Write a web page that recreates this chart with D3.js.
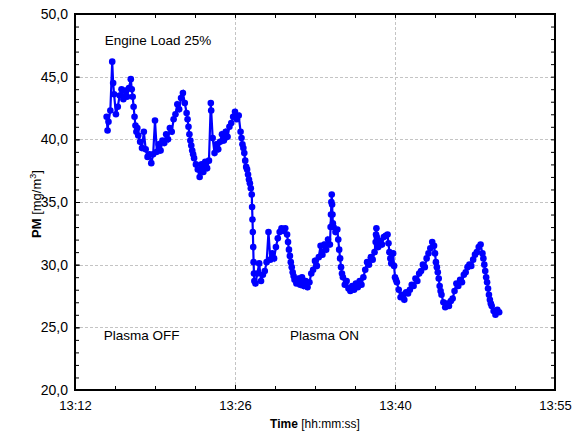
<!DOCTYPE html>
<html>
<head>
<meta charset="utf-8">
<script src="https://cdn.jsdelivr.net/npm/d3@7"></script>
<style>
  body { margin: 0; background: #fff; }
  svg { display: block; font-family: "Liberation Sans", Arial, sans-serif; }
</style>
</head>
<body>
<svg id="chart" width="573" height="436"></svg>
<script>
// measured PM concentration, engine load 25%
const sampleTimes = [
  "13:14:50","13:14:55","13:15:00","13:15:10","13:15:20","13:15:25","13:15:30","13:15:40","13:15:50",
  "13:16:00","13:16:10","13:16:20","13:16:30","13:16:40","13:16:50",
  "13:17:00","13:17:05","13:17:10","13:17:15","13:17:20","13:17:25","13:17:30","13:17:35","13:17:40","13:17:50",
  "13:18:00","13:18:10","13:18:20","13:18:30","13:18:40","13:18:50",
  "13:19:00","13:19:10","13:19:20","13:19:30","13:19:40","13:19:50",
  "13:20:00","13:20:10","13:20:20","13:20:30","13:20:40","13:20:50",
  "13:21:00","13:21:10","13:21:20","13:21:30","13:21:40","13:21:50",
  "13:22:00","13:22:05","13:22:10","13:22:15","13:22:20","13:22:25","13:22:30","13:22:35","13:22:40","13:22:50",
  "13:23:00","13:23:10","13:23:20","13:23:30","13:23:40","13:23:50",
  "13:24:00","13:24:10","13:24:12","13:24:20","13:24:30","13:24:40","13:24:50",
  "13:25:00","13:25:10","13:25:20","13:25:30","13:25:40","13:25:50",
  "13:26:00","13:26:10","13:26:20","13:26:30","13:26:40","13:26:50","13:26:55",
  "13:27:00","13:27:05","13:27:10","13:27:15","13:27:20","13:27:25","13:27:30","13:27:35","13:27:40","13:27:45","13:27:50",
  "13:27:52","13:27:54","13:27:56","13:27:58","13:28:00","13:28:02","13:28:04",
  "13:28:10","13:28:20","13:28:30","13:28:40","13:28:50",
  "13:29:00","13:29:10","13:29:20","13:29:30","13:29:40","13:29:50",
  "13:30:00","13:30:10","13:30:20","13:30:30","13:30:40","13:30:50",
  "13:31:00","13:31:05","13:31:10","13:31:15","13:31:20","13:31:25","13:31:30","13:31:35","13:31:40","13:31:50",
  "13:32:00","13:32:10","13:32:20","13:32:30","13:32:40","13:32:50",
  "13:33:00","13:33:10","13:33:20","13:33:30","13:33:40","13:33:50",
  "13:34:00","13:34:10","13:34:20","13:34:30","13:34:40","13:34:50",
  "13:34:54","13:34:56","13:34:58","13:35:00","13:35:02","13:35:04","13:35:06",
  "13:35:10","13:35:20","13:35:30","13:35:35","13:35:40","13:35:45","13:35:50","13:35:55",
  "13:36:00","13:36:10","13:36:20","13:36:30","13:36:40","13:36:50",
  "13:37:00","13:37:10","13:37:20","13:37:30","13:37:40","13:37:50",
  "13:38:00","13:38:10","13:38:20","13:38:30","13:38:40","13:38:50",
  "13:38:56","13:38:58","13:39:00","13:39:02","13:39:04",
  "13:39:10","13:39:20","13:39:30","13:39:40","13:39:50",
  "13:40:00","13:40:05","13:40:10","13:40:15","13:40:20","13:40:30","13:40:35","13:40:40","13:40:45","13:40:50",
  "13:41:00","13:41:10","13:41:20","13:41:30","13:41:40","13:41:50",
  "13:42:00","13:42:10","13:42:20","13:42:30","13:42:40","13:42:50",
  "13:43:00","13:43:10","13:43:20","13:43:30","13:43:40","13:43:50",
  "13:44:00","13:44:10","13:44:15","13:44:20","13:44:25","13:44:30","13:44:35","13:44:40","13:44:45","13:44:50",
  "13:45:00","13:45:10","13:45:20","13:45:30","13:45:40","13:45:50",
  "13:46:00","13:46:10","13:46:20","13:46:30","13:46:40","13:46:50",
  "13:47:00","13:47:10","13:47:20","13:47:30","13:47:40","13:47:50",
  "13:48:00","13:48:10","13:48:20","13:48:30","13:48:35","13:48:40","13:48:45","13:48:50","13:48:55",
  "13:49:00","13:49:05","13:49:10","13:49:15","13:49:20","13:49:30","13:49:40","13:49:50","13:50:00"
];

const pmValues = [
  41.8,40.7,41.4,42.3,46.2,44.5,43.6,42.0,42.6,
  43.5,44.0,43.2,43.9,43.4,44.1,
  44.8,44.0,43.4,42.6,41.8,41.1,40.6,40.9,40.3,39.8,
  39.3,40.6,39.2,38.6,38.8,38.1,
  38.8,41.5,39.0,39.6,39.1,39.9,
  39.7,40.4,40.0,40.9,40.6,41.6,
  42.0,42.8,42.4,43.3,43.7,42.9,
  42.1,41.6,41.0,40.4,39.9,39.5,39.1,38.8,38.5,38.0,
  37.6,37.0,38.0,37.4,38.2,37.7,
  38.3,42.9,42.3,40.1,38.9,39.6,39.2,
  39.8,40.4,39.9,40.6,40.2,41.0,
  41.3,41.8,42.2,41.6,41.9,40.6,40.1,
  39.6,39.3,38.9,38.3,37.8,37.6,37.2,36.8,36.5,36.1,35.6,
  34.6,33.6,32.6,31.4,30.2,29.3,28.7,
  28.5,29.3,30.1,28.7,29.2,
  29.5,30.2,32.6,30.4,30.9,30.5,
  31.4,32.1,32.6,32.9,32.7,32.9,
  32.4,31.8,31.2,30.7,30.2,29.8,29.4,29.1,28.8,28.5,
  28.9,28.4,29.0,28.3,28.7,28.2,
  28.6,29.3,29.6,30.3,29.9,30.6,
  31.5,30.8,31.6,31.2,32.0,31.6,
  33.0,34.0,35.0,35.6,34.8,34.0,33.3,
  33.0,32.6,32.8,32.0,31.2,30.5,29.8,29.3,
  29.0,28.4,28.7,28.1,27.9,28.3,
  28.0,28.5,28.2,28.7,28.4,29.0,
  29.6,30.2,30.0,30.6,30.4,31.0,
  31.8,32.4,32.9,32.2,31.5,
  31.4,31.9,31.6,32.2,32.3,
  32.4,31.7,31.0,30.5,30.1,30.9,29.9,29.0,28.8,28.6,
  28.0,27.4,27.6,27.2,27.8,27.7,
  28.0,28.4,28.3,28.9,28.7,29.3,
  29.5,30.0,29.8,30.5,30.9,31.3,
  31.8,31.5,30.9,30.2,29.8,29.4,28.9,28.3,27.9,27.6,
  27.0,26.6,26.9,26.7,27.1,27.3,
  27.9,28.5,28.3,28.8,28.6,29.2,
  29.4,29.8,30.0,29.9,30.4,30.8,
  31.0,31.4,31.6,30.9,30.5,30.0,29.5,29.0,28.6,
  28.1,27.6,27.2,26.9,26.7,26.3,26.0,26.4,26.2
];

const xDomain = ["13:12:00", "13:55:00"];
const yTicks = [20, 25, 30, 35, 40, 45, 50];
const notes = [
  { text: "Engine Load 25%", time: "13:14:40", value: 47.5 },
  { text: "Plasma OFF", time: "13:14:35", value: 24.0 },
  { text: "Plasma ON", time: "13:31:15", value: 24.0 }
];

const parseTime = d3.timeParse("%H:%M:%S");
const svg = d3.select("#chart");

const margin = { left: 75, right: 18, top: 14, bottom: 46 };
const W = 573, H = 436;

const x = d3.scaleTime()
  .domain(xDomain.map(parseTime))
  .range([margin.left, W - margin.right]);
const y = d3.scaleLinear()
  .domain([20, 50])
  .range([H - margin.bottom, margin.top]);

// x ticks are evenly split in 3, labels truncated to hh:mm
const [t0, t1] = x.domain().map(d => +d);
const xMajor = d3.range(4).map(i => new Date(t0 + i * (t1 - t0) / 3));
const xMinor = d3.range(13).map(i => new Date(t0 + i * (t1 - t0) / 12));
const yMinor = d3.range(20, 51, 1);

const fmtY = d => d3.format(".1f")(d).replace(".", ",");

// grid
const grid = svg.append("g")
  .attr("stroke", "#c4c4c4")
  .attr("stroke-width", 1)
  .attr("stroke-dasharray", "3,2");
grid.selectAll("line.gx")
  .data(xMajor.slice(1, -1))
  .enter().append("line")
  .attr("x1", d => Math.round(x(d)) + 0.5).attr("x2", d => Math.round(x(d)) + 0.5)
  .attr("y1", y(20)).attr("y2", y(50));
grid.selectAll("line.gy")
  .data(yTicks.slice(1, -1))
  .enter().append("line")
  .attr("y1", d => Math.round(y(d)) + 0.5).attr("y2", d => Math.round(y(d)) + 0.5)
  .attr("x1", x.range()[0]).attr("x2", x.range()[1]);

// series
const points = sampleTimes.map((t, i) => ({ t: parseTime(t), v: pmValues[i] }));

svg.append("path")
  .datum(points)
  .attr("fill", "none")
  .attr("stroke", "#0000ff")
  .attr("stroke-width", 2.2)
  .attr("d", d3.line().x(d => x(d.t)).y(d => y(d.v)));

svg.append("g")
  .selectAll("circle")
  .data(points)
  .enter().append("circle")
  .attr("cx", d => x(d.t))
  .attr("cy", d => y(d.v))
  .attr("r", 3.3)
  .attr("fill", "#0000ff");

// axes (ticks pointing inwards)
function styleAxis(g) {
  g.select(".domain").remove();
  g.selectAll("line").attr("stroke", "#000").attr("stroke-width", 1);
  g.selectAll("text").attr("fill", "#000").attr("font-family", "Liberation Sans, Arial, sans-serif");
}

svg.append("g")
  .attr("transform", `translate(0,${y(20)})`)
  .call(d3.axisBottom(x).tickValues(xMinor).tickFormat("").tickSizeInner(-4).tickSizeOuter(0))
  .call(styleAxis);
svg.append("g")
  .attr("transform", `translate(0,${y(20)})`)
  .call(d3.axisBottom(x).tickValues(xMajor).tickFormat(d3.timeFormat("%H:%M"))
    .tickSizeInner(-5).tickSizeOuter(0).tickPadding(11))
  .call(styleAxis)
  .selectAll("text").attr("font-size", 13);

svg.append("g")
  .attr("transform", `translate(0,${y(50)})`)
  .call(d3.axisTop(x).tickValues(xMinor).tickFormat("").tickSizeInner(-4).tickSizeOuter(0))
  .call(styleAxis);

svg.append("g")
  .attr("transform", `translate(${x.range()[0]},0)`)
  .call(d3.axisLeft(y).tickValues(yMinor).tickFormat("").tickSizeInner(-4).tickSizeOuter(0))
  .call(styleAxis);
svg.append("g")
  .attr("transform", `translate(${x.range()[0]},0)`)
  .call(d3.axisLeft(y).tickValues(yTicks).tickFormat(fmtY).tickSizeInner(-5).tickSizeOuter(0).tickPadding(7))
  .call(styleAxis)
  .selectAll("text").attr("font-size", 14);

svg.append("g")
  .attr("transform", `translate(${x.range()[1]},0)`)
  .call(d3.axisRight(y).tickValues(yMinor).tickFormat("").tickSizeInner(-4).tickSizeOuter(0))
  .call(styleAxis);

// frame
svg.append("rect")
  .attr("x", x.range()[0])
  .attr("y", y(50))
  .attr("width", x.range()[1] - x.range()[0])
  .attr("height", y(20) - y(50))
  .attr("fill", "none")
  .attr("stroke", "#000")
  .attr("stroke-width", 2);

// annotations
svg.append("g")
  .selectAll("text")
  .data(notes)
  .enter().append("text")
  .attr("x", d => x(parseTime(d.time)))
  .attr("y", d => y(d.value))
  .attr("font-size", 13.5)
  .attr("fill", "#000")
  .text(d => d.text);

// axis titles
const xTitle = svg.append("text")
  .attr("x", (x.range()[0] + x.range()[1]) / 2)
  .attr("y", 428)
  .attr("text-anchor", "middle")
  .attr("font-size", 12);
xTitle.append("tspan").attr("font-weight", "bold").text("Time");
xTitle.append("tspan").text(" [hh:mm:ss]");

const yTitle = svg.append("text")
  .attr("transform", `translate(41,204) rotate(-90)`)
  .attr("text-anchor", "middle")
  .attr("font-size", 13);
yTitle.append("tspan").attr("font-weight", "bold").text("PM");
yTitle.append("tspan").text(" [mg/m");
yTitle.append("tspan").attr("font-size", 9).attr("dy", -5).text("3");
yTitle.append("tspan").attr("dy", 5).text("]");
</script>
</body>
</html>
